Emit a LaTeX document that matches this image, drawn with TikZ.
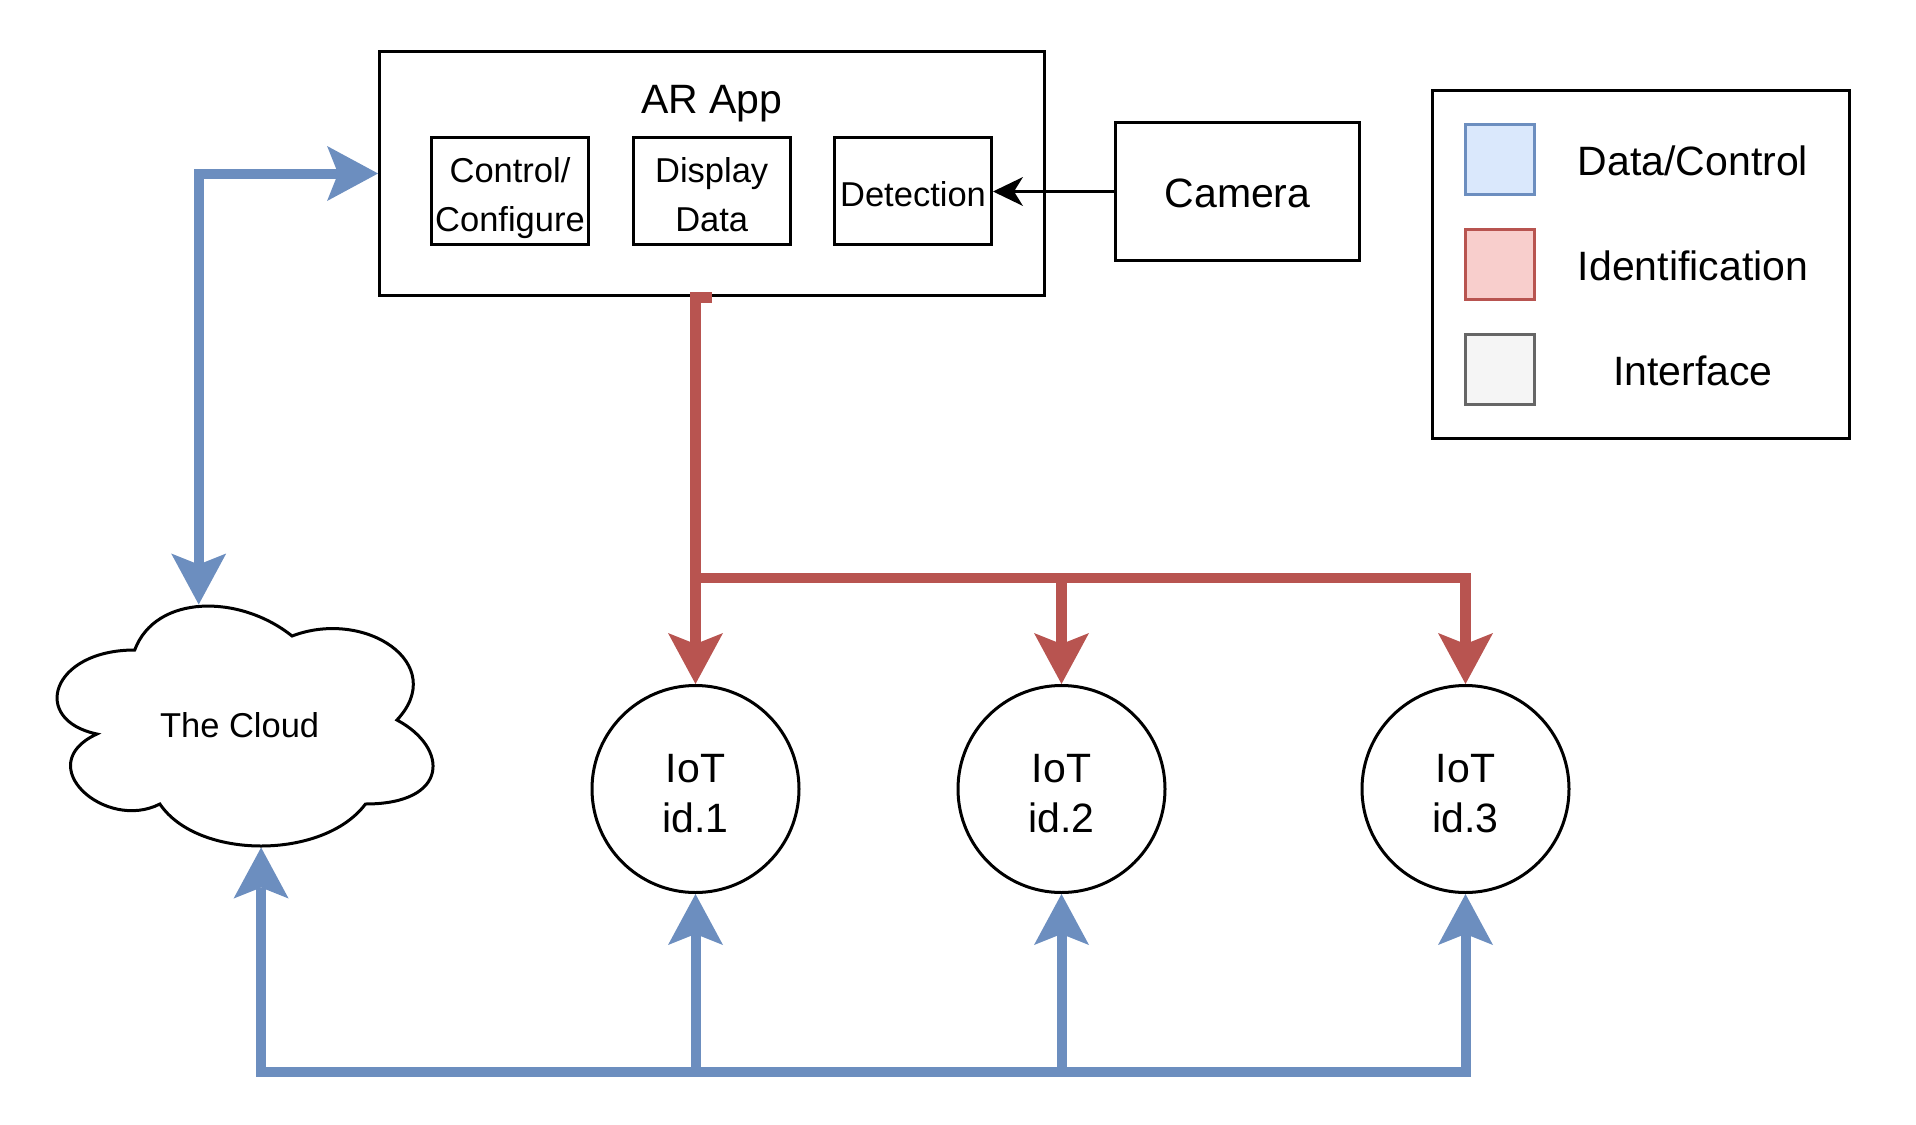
\documentclass[tikz,border=0pt]{standalone}
\usepackage{fontspec}
\setmainfont{Liberation Sans}
\usetikzlibrary{arrows.meta}
\definecolor{dcblue}{HTML}{6C8EBF}
\definecolor{idred}{HTML}{B85450}
\definecolor{dcfill}{HTML}{DAE8FC}
\definecolor{idfill}{HTML}{F8CECC}
\definecolor{iffill}{HTML}{F5F5F5}
\definecolor{ifline}{HTML}{666666}
\tikzset{
  bigtip/.tip={Stealth[length=51pt,width=55pt,inset=11pt,line width=0pt]},
  smalltip/.tip={Stealth[length=30pt,width=29pt,inset=9pt,line width=0pt]},
}
\begin{document}
\begin{tikzpicture}[x=1pt,y=-1pt,
  bigfont/.style={font=\fontsize{41}{50}\selectfont, text height=31.4pt, text depth=0pt},
  smallfont/.style={font=\fontsize{34.5}{49}\selectfont, text height=30.7pt, text depth=0pt},
  box/.style={draw=black, line width=3pt, inner sep=0pt, fill=white},
  smallbox/.style={box, minimum width=157pt, minimum height=107pt, smallfont, align=center},
  twosmall/.style={text height=80.7pt, text depth=0pt},
  iotnode/.style={circle, draw=black, line width=3pt, inner sep=0pt, minimum size=207pt, bigfont, align=center, text height=86.4pt, text depth=0pt},
  swatch/.style={draw, line width=3pt, inner sep=0pt, minimum width=69pt, minimum height=70pt},
  bluel/.style={draw=dcblue, line width=10pt},
  redl/.style={draw=idred, line width=10.5pt},
]
\useasboundingbox (0,0) rectangle (1916,1124);

% AR App
\node[box, minimum width=664.7pt, minimum height=244.5pt] (ar) at (711.9,173.5) {};
\node[bigfont, anchor=base] (artitle) at (711.9,113.3) {AR App};
\node[smallbox, twosmall] (ctrl) at (510,191) {Control/\\Configure};
\node[smallbox, twosmall] (disp) at (711.7,191) {Display\\Data};
\node[smallbox] (det) at (913,191) {Detection};

% Camera
\node[box, minimum width=244pt, minimum height=138pt, bigfont] (cam) at (1237.5,191.5) {Camera};

% Legend
\node[box, minimum width=417pt, minimum height=348pt] (legend) at (1641,264.5) {};
\node[swatch, draw=dcblue, fill=dcfill] (sw1) at (1500,159.5) {};
\node[swatch, draw=idred, fill=idfill] (sw2) at (1500,264) {};
\node[swatch, draw=ifline, fill=iffill] (sw3) at (1500,369) {};
\node[bigfont] (lt1) at (1693,159.5) {Data/Control};
\node[bigfont] (lt2) at (1693,264.5) {Identification};
\node[bigfont] (lt3) at (1693,369.5) {Interface};

% Cloud
\draw[line width=3pt, fill=white] (134.7,650) .. controls (50.78,650) and (29.8,720) .. (96.94,734)
  .. controls (29.8,764.8) and (105.33,832) .. (159.88,804)
  .. controls (197.64,860) and (323.52,860) .. (365.48,804)
  .. controls (449.4,804) and (449.4,748) .. (396.95,720)
  .. controls (449.4,664) and (365.48,608) .. (292.05,636)
  .. controls (239.6,594) and (155.68,594) .. (134.7,650) -- cycle;
\node[smallfont] (cloud) at (239.6,722) {The Cloud};
\coordinate (cloudtop) at (198.7,604.5);
\coordinate (cloudbot) at (261.1,847.5);

% IoT devices
\node[iotnode] (iot1) at (695.5,789) {IoT\\id.1};
\node[iotnode] (iot2) at (1061.5,789) {IoT\\id.2};
\node[iotnode] (iot3) at (1465.5,789) {IoT\\id.3};

% Camera -> Detection
\draw[line width=3pt, -{smalltip}] (cam.west) -- (cam.west -| det.east);

% Identification (red)
\coordinate (rj) at (695.5,578);
\draw[redl, -{bigtip}] (ar.south) -- (ar.south -| iot1.north) -- (iot1.north);
\draw[redl, -{bigtip}] (rj) -| (iot2.north);
\draw[redl, -{bigtip}] (rj) -| (iot3.north);

% Data/Control (blue)
\draw[bluel, {bigtip}-{bigtip}] (cloudtop) |- (ar.west);
\coordinate (busl) at (261.1,1072);
\coordinate (busr) at (1465.5,1072);
\draw[bluel, {bigtip}-{bigtip}] (cloudbot) -- (busl) -- (busr) -- (iot3.south);
\draw[bluel, -{bigtip}] (busl -| iot1.south) -- (iot1.south);
\draw[bluel, -{bigtip}] (busl -| iot2.south) -- (iot2.south);
\end{tikzpicture}
\end{document}
